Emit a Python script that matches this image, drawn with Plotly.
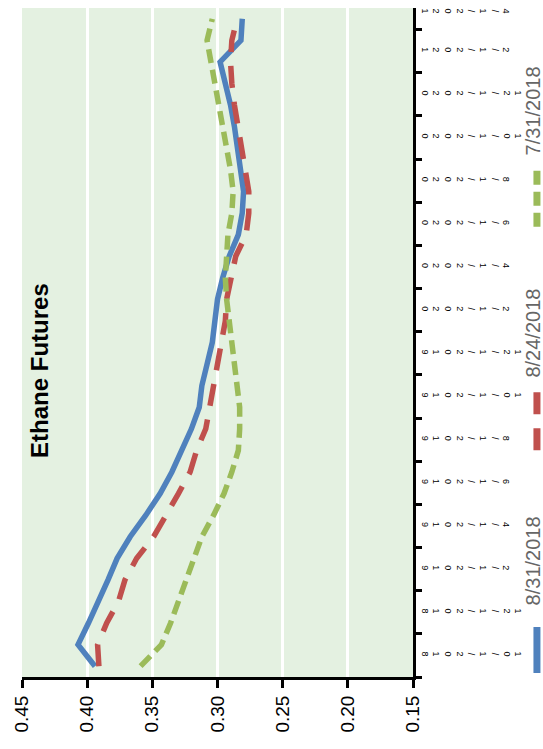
import plotly.graph_objects as go

months = ["10/1/2018", "11/1/2018", "12/1/2018", "1/1/2019", "2/1/2019", "3/1/2019",
          "4/1/2019", "5/1/2019", "6/1/2019", "7/1/2019", "8/1/2019", "9/1/2019",
          "10/1/2019", "11/1/2019", "12/1/2019", "1/1/2020", "2/1/2020", "3/1/2020",
          "4/1/2020", "5/1/2020", "6/1/2020", "7/1/2020", "8/1/2020", "9/1/2020",
          "10/1/2020", "11/1/2020", "12/1/2020", "1/1/2021", "2/1/2021", "3/1/2021",
          "4/1/2021"]

s_0831 = [0.394, 0.407, 0.399, 0.391, 0.384, 0.377, 0.367, 0.355, 0.344, 0.335, 0.327,
          0.320, 0.314, 0.312, 0.308, 0.304, 0.302, 0.300, 0.296, 0.291, 0.284, 0.281,
          0.280, 0.282, 0.284, 0.287, 0.290, 0.294, 0.298, 0.282, 0.281]
s_0824 = [0.391, 0.392, 0.385, 0.376, 0.371, 0.362, 0.349, 0.339, 0.330, 0.321, 0.316,
          0.309, 0.306, 0.303, 0.299, 0.296, 0.294, 0.293, 0.289, 0.286, 0.278, 0.276,
          0.276, 0.279, 0.282, 0.284, 0.287, 0.289, 0.290, 0.289, 0.285]
s_0731 = [0.359, 0.343, 0.336, 0.330, 0.323, 0.317, 0.312, 0.303, 0.295, 0.289, 0.284,
          0.283, 0.283, 0.285, 0.287, 0.290, 0.291, 0.293, 0.294, 0.293, 0.292, 0.289,
          0.288, 0.290, 0.293, 0.296, 0.299, 0.303, 0.305, 0.308, 0.304]

series_names = ["8/31/2018", "8/24/2018", "7/31/2018"]
value_ticks = [0.45, 0.40, 0.35, 0.30, 0.25, 0.20, 0.15]

colors = ["#4F81BD", "#C0504D", "#9BBB59"]
dashes = ["solid", "22px,14px", "14px,7px"]

idx = list(range(len(months)))

fig = go.Figure()
for name, vals, c, d in zip(series_names, [s_0831, s_0824, s_0731], colors, dashes):
    fig.add_trace(go.Scatter(x=vals, y=idx, mode="lines", name=name,
                             line=dict(color=c, width=5.5, dash=d),
                             showlegend=False))

# category label positions (every second month, centred between tick marks)
lab_pos = [i + 0.5 for i in idx[::2]]
lab_pos[-1] = 30.3
lab_text = ["<br>".join(m) for m in months[::2]]
minor_pos = [i - 0.5 for i in idx[::2]]

fig.update_layout(
    width=543, height=749,
    margin=dict(l=22, r=130, t=8, b=72),
    paper_bgcolor="white",
    plot_bgcolor="#E4F1E1",
    font=dict(family="Liberation Sans, Arial, sans-serif", color="black"),
    xaxis=dict(
        range=[0.45, 0.15], tickmode="array", tickvals=value_ticks,
        ticktext=["%.2f" % v for v in value_ticks], tickangle=-90,
        ticks="outside", ticklen=8, tickwidth=3, tickcolor="black",
        showline=True, linecolor="black", linewidth=3,
        showgrid=True, gridcolor="white", gridwidth=2.5,
        zeroline=False, tickfont=dict(size=19, color="black"),
        automargin=False,
    ),
    yaxis=dict(
        range=[-0.5, 30.5], side="right", tickmode="array",
        tickvals=lab_pos, ticktext=lab_text, tickangle=90,
        ticks="outside", ticklen=2, tickcolor="rgba(0,0,0,0)",
        showline=True, linecolor="black", linewidth=3,
        showgrid=False, zeroline=False,
        tickfont=dict(size=9, color="black"),
        automargin=False,
        minor=dict(tickmode="array", tickvals=minor_pos, ticks="outside",
                   ticklen=6, tickwidth=3, tickcolor="black", showgrid=False),
    ),
)

fig.add_annotation(text="<b>Ethane Futures</b>", xref="paper", yref="paper",
                   x=0.046, y=0.459, textangle=-90, showarrow=False,
                   xanchor="center", yanchor="middle",
                   font=dict(size=24, color="black"))

# legend (rotated), drawn as text + short line samples
leg_text_y = [0.1734, 0.514, 0.846]
leg_sym_y = [(0.006, 0.0747), (0.339, 0.444), (0.673, 0.764)]
for name, c, d, ty, (y0, y1) in zip(series_names, colors, dashes, leg_text_y, leg_sym_y):
    fig.add_annotation(text=name, xref="paper", yref="paper", x=1.308, y=ty,
                       textangle=-90, showarrow=False, xanchor="center",
                       yanchor="middle", font=dict(size=20, color="#666666"))
    fig.add_shape(type="line", xref="paper", yref="paper", x0=1.317, x1=1.317,
                  y0=y0, y1=y1, line=dict(color=c, width=7, dash=d))

fig.write_html("out.html", config={"displayModeBar": False},
               post_script="document.body.style.margin='0';"
                           "document.body.style.overflow='hidden';")
